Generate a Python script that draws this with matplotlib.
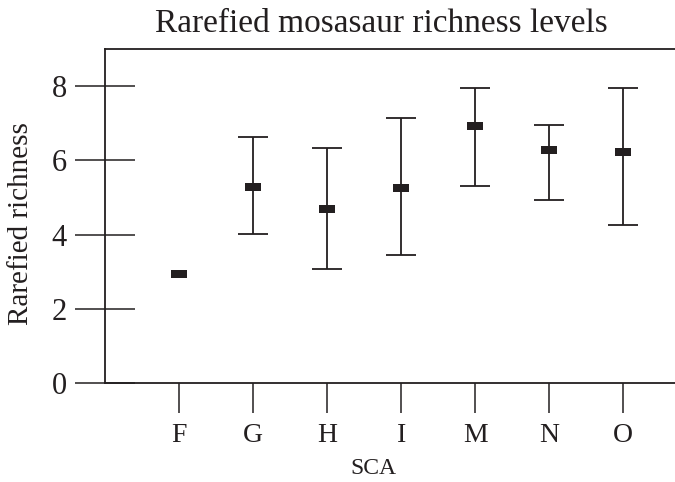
import matplotlib
matplotlib.use("Agg")
import matplotlib.pyplot as plt

categories = ["F", "G", "H", "I", "M", "N", "O"]
means = [2.95, 5.29, 4.68, 5.26, 6.92, 6.27, 6.22]
upper = [2.95, 6.64, 6.32, 7.13, 7.94, 6.96, 7.96]
lower = [2.95, 4.01, 3.06, 3.46, 5.30, 4.92, 4.26]
yticks = [0, 2, 4, 6, 8]

ink = "#231f20"
plt.rcParams["font.family"] = ["Liberation Serif", "DejaVu Serif"]

fig = plt.figure(figsize=(6.75, 4.82), dpi=100)
ax = fig.add_axes([105 / 675, 99 / 482, 570 / 675, 334 / 482])

x = list(range(1, len(categories) + 1))
yerr = [[m - l for m, l in zip(means, lower)], [u - m for u, m in zip(upper, means)]]
rect = [(-1, -0.5), (1, -0.5), (1, 0.5), (-1, 0.5), (-1, -0.5)]
for xi, m, el, eu in zip(x, means, yerr[0], yerr[1]):
    if el > 0 or eu > 0:
        ax.errorbar([xi], [m], yerr=[[el], [eu]], fmt="none", ecolor=ink,
                    elinewidth=1.3, capsize=11, capthick=1.3, zorder=2)
ax.plot(x, means, linestyle="none", marker=rect, markersize=11,
        color=ink, markeredgewidth=0, zorder=3)

ax.set_xlim(0, 7.7)
ax.set_ylim(0, 9)
ax.set_xticks(x)
ax.set_xticklabels(categories)
ax.set_yticks(yticks)
ax.set_yticklabels([str(t) for t in yticks])

for s in ["right"]:
    ax.spines[s].set_visible(False)
for s in ["left", "top", "bottom"]:
    ax.spines[s].set_linewidth(1.3)
    ax.spines[s].set_color(ink)

ax.tick_params(axis="y", direction="inout", length=43, width=1.1, color=ink,
               labelsize=22, pad=6, labelcolor=ink)
ax.tick_params(axis="x", direction="out", length=21.5, width=1.1, color=ink,
               labelsize=20, pad=7, labelcolor=ink)

ax.set_title("Rarefied mosasaur richness levels", fontsize=24, color=ink,
             pad=12, x=0.485)
ax.set_ylabel("Rarefied richness", fontsize=21, color=ink)
ax.yaxis.set_label_coords(-0.124, 0.476)
ax.set_xlabel("SCA", fontsize=17, color=ink)
ax.xaxis.set_label_coords(0.471, -0.225)

fig.savefig("out.png", dpi=100)
